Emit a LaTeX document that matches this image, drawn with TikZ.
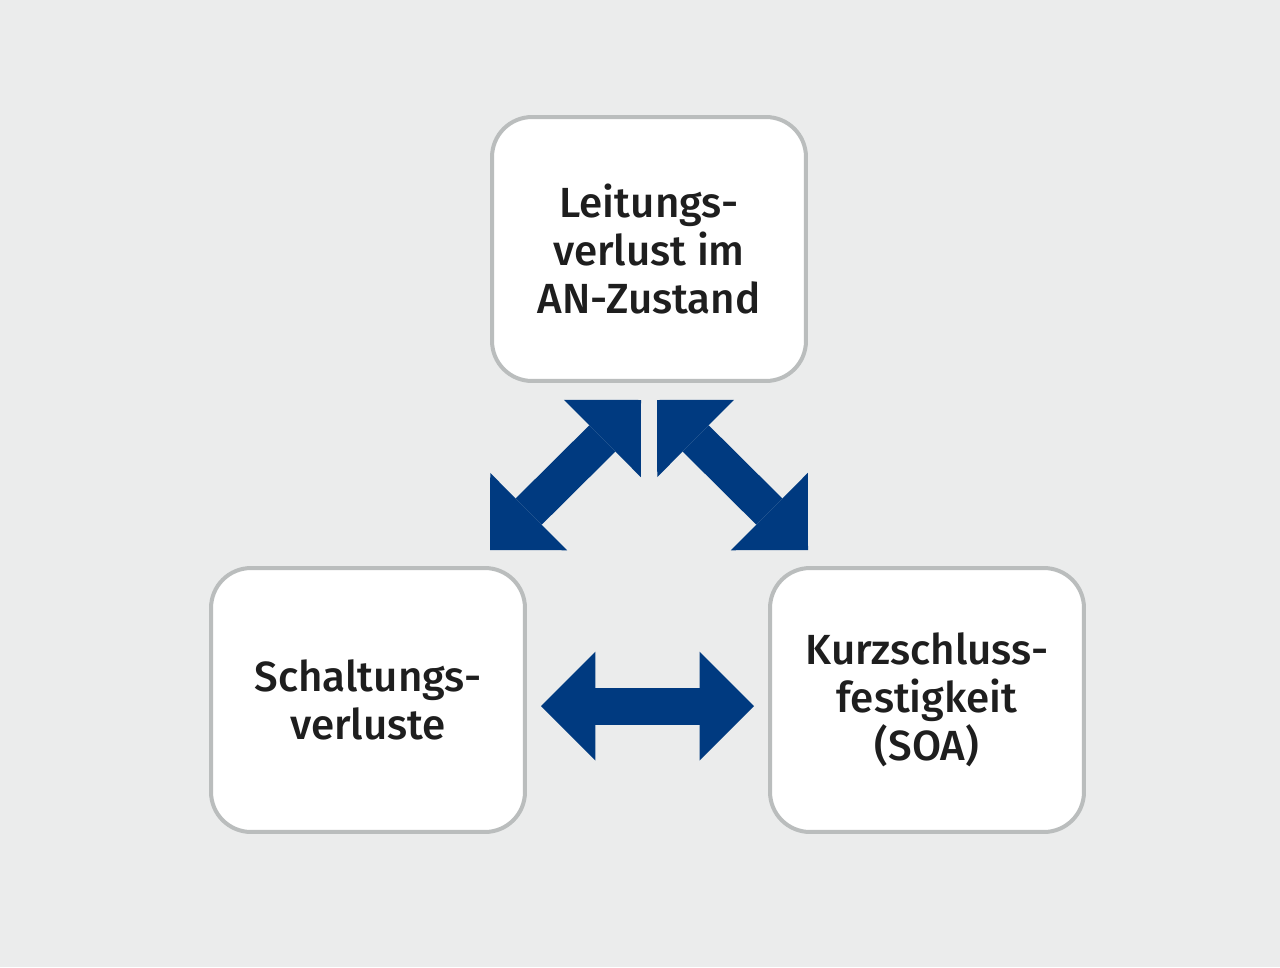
\documentclass[tikz,border=0pt]{standalone}
\usepackage{fontspec}
\setmainfont{Fira Sans}[UprightFont={* Medium}]
\usepackage{tikz}
\usetikzlibrary{calc,arrows.meta,positioning}
\definecolor{bgcol}{RGB}{235,236,236}
\definecolor{rimcol}{RGB}{186,189,189}
\definecolor{arrcol}{RGB}{0,58,128}
\definecolor{txtcol}{RGB}{30,30,30}

\begin{document}
\begin{tikzpicture}[
 x=0.02cm, y=-0.02cm,
 box/.style={draw=rimcol, line width=0.08cm, fill=white, rounded corners=0.8cm,
 minimum width=6.28cm, minimum height=5.28cm, align=center,
 text=txtcol, font=\fontsize{24}{27.2}\selectfont},
 blk/.style={arrcol, line width=0.74cm,
 {Triangle[length=1.09cm, width=2.18cm, line width=0pt]}-{Triangle[length=1.09cm, width=2.18cm, line width=0pt]}}
]
% Background
\fill[bgcol] (0,0) rectangle (1280,967);
\useasboundingbox (0,0) rectangle (1280,967);

% Boxes
\node[box] (lv) at (649,249) {Leitungs-\\verlust im\\AN-Zustand};
\node[box] (sv) at (368,700) {Schaltungs-\\verluste};
\node[box] (kf) at (927,700) {Kurzschluss-\\festigkeit\\(SOA)};

% Arrow ends
\coordinate (l1) at (490,550);
\coordinate (l2) at (641,400);
\coordinate (r1) at (657,400);
\coordinate (r2) at (808,550);
\coordinate (h1) at (541,706);
\coordinate (h2) at (754,706);

% Arrows
\draw[blk] (l1) -- (l2);
\draw[blk] (r1) -- (r2);
\draw[blk] (h1) -- (h2);
\end{tikzpicture}
\end{document}
